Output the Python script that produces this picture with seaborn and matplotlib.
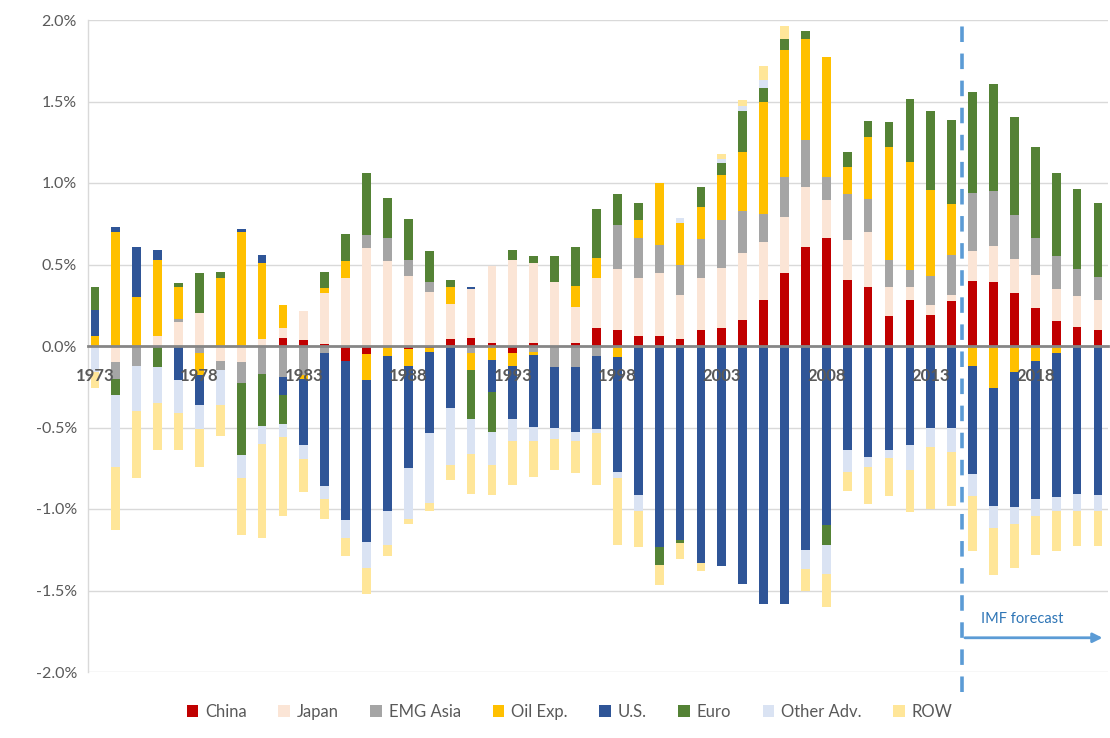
import numpy as np
import pandas as pd
import matplotlib
matplotlib.use("Agg")
import matplotlib.pyplot as plt
from matplotlib.patches import Patch
import seaborn as sns

years = list(range(1973, 2022))
series_names = ["China", "Japan", "EMG Asia", "Oil Exp.", "U.S.", "Euro", "Other Adv.", "ROW"]

china = [0, 0, 0, 0, 0, 0, 0, 0, 0, 0.05,
         0.035, 0.015, -0.09, -0.05, 0, -0.02, -0.015, 0.045, 0.05, 0.02,
         -0.04, 0.02, 0, 0.02, 0.11, 0.10, 0.06, 0.06, 0.045, 0.10,
         0.11, 0.16, 0.28, 0.45, 0.61, 0.665, 0.405, 0.36, 0.185, 0.285,
         0.19, 0.275, 0.40, 0.39, 0.325, 0.235, 0.155, 0.115, 0.10]
japan = [0, -0.10, 0, 0.06, 0.15, 0.20, -0.09, -0.10, 0.04, 0.06,
         0.18, 0.31, 0.42, 0.60, 0.52, 0.43, 0.33, 0.21, 0.30, 0.47,
         0.53, 0.49, 0.39, 0.22, 0.31, 0.37, 0.36, 0.39, 0.265, 0.32,
         0.37, 0.41, 0.36, 0.34, 0.365, 0.23, 0.245, 0.34, 0.18, 0.08,
         0.06, 0.035, 0.185, 0.225, 0.21, 0.20, 0.195, 0.19, 0.18]
emg_asia = [0, -0.10, -0.12, 0, 0.015, -0.04, -0.06, -0.13, -0.17, -0.19,
            -0.18, -0.04, 0, 0.08, 0.14, 0.10, 0.06, 0, -0.04, 0,
            0, -0.035, -0.13, -0.13, -0.06, 0.27, 0.24, 0.17, 0.19, 0.235,
            0.29, 0.26, 0.17, 0.245, 0.29, 0.14, 0.28, 0.20, 0.165, 0.10,
            0.18, 0.25, 0.355, 0.335, 0.27, 0.23, 0.20, 0.17, 0.145]
oil_exp = [0.06, 0.70, 0.30, 0.47, 0.20, -0.14, 0.42, 0.70, 0.47, 0.14,
           -0.025, 0.03, 0.10, -0.16, -0.06, -0.10, -0.02, 0.11, -0.11, -0.085,
           -0.08, -0.02, 0, 0.13, 0.12, -0.07, 0.11, 0.38, 0.255, 0.20,
           0.28, 0.36, 0.69, 0.78, 0.62, 0.74, 0.17, 0.38, 0.69, 0.665,
           0.53, 0.31, -0.125, -0.255, -0.16, -0.09, -0.045, 0, 0]
us = [0.16, 0.03, 0.31, 0.06, -0.21, -0.18, 0, 0.02, 0.05, -0.11,
      -0.40, -0.82, -0.98, -0.99, -0.95, -0.63, -0.50, -0.38, 0.01, -0.20,
      -0.33, -0.44, -0.37, -0.40, -0.45, -0.70, -0.915, -1.235, -1.19, -1.33,
      -1.35, -1.46, -1.585, -1.58, -1.25, -1.10, -0.64, -0.68, -0.64, -0.61,
      -0.50, -0.50, -0.66, -0.725, -0.825, -0.85, -0.88, -0.91, -0.915]
euro = [0.14, -0.10, 0, -0.13, 0.02, 0.25, 0.035, -0.44, -0.32, -0.18,
        0, 0.10, 0.17, 0.38, 0.25, 0.25, 0.19, 0.04, -0.30, -0.245,
        0.06, 0.04, 0.16, 0.24, 0.30, 0.19, 0.11, -0.11, -0.02, 0.12,
        0.07, 0.25, 0.08, 0.07, 0.05, -0.12, 0.09, 0.10, 0.155, 0.385,
        0.48, 0.515, 0.62, 0.655, 0.60, 0.555, 0.51, 0.49, 0.45]
other_adv = [-0.16, -0.44, -0.28, -0.22, -0.20, -0.15, -0.21, -0.14, -0.11, -0.08,
             -0.09, -0.08, -0.11, -0.16, -0.21, -0.31, -0.43, -0.35, -0.21, -0.20,
             -0.13, -0.09, -0.07, -0.05, -0.025, -0.04, -0.095, 0, 0.03, 0,
             0.03, 0.03, 0.05, 0, -0.12, -0.18, -0.13, -0.06, -0.05, -0.15,
             -0.12, -0.15, -0.135, -0.135, -0.11, -0.10, -0.09, -0.10, -0.095]
row = [-0.10, -0.39, -0.41, -0.29, -0.23, -0.23, -0.19, -0.35, -0.58, -0.48,
       -0.20, -0.12, -0.11, -0.16, -0.07, -0.03, -0.05, -0.09, -0.25, -0.185,
       -0.27, -0.22, -0.19, -0.20, -0.32, -0.41, -0.225, -0.12, -0.095, -0.05,
       0.03, 0.04, 0.085, 0.08, -0.13, -0.20, -0.12, -0.23, -0.23, -0.26,
       -0.38, -0.33, -0.335, -0.29, -0.27, -0.245, -0.245, -0.22, -0.22]

colors = ["#C00000", "#FBE5D6", "#A5A5A5", "#FFC000",
          "#2F5597", "#548235", "#DAE3F3", "#FFE699"]

label_years = [1973, 1978, 1983, 1988, 1993, 1998, 2003, 2008, 2013, 2018]
y_ticks = [-2.0, -1.5, -1.0, -0.5, 0.0, 0.5, 1.0, 1.5, 2.0]
forecast_start = 2014.5

sns.set_theme(style="white")
plt.rcParams['font.family'] = ['Lato', 'DejaVu Sans']

fig = plt.figure(figsize=(11.1, 7.38), dpi=100)
ax = fig.add_axes([88 / 1110, 1 - 672 / 738, 1020 / 1110, 652 / 738])

data = np.array([china, japan, emg_asia, oil_exp, us, euro, other_adv, row], dtype=float)
pos = np.clip(data, 0, None).cumsum(axis=0)
neg = np.clip(data, None, 0).cumsum(axis=0)

for y in y_ticks:
    if y != 0:
        ax.axhline(y, color="#D9D9D9", lw=1, zorder=0)

for k in reversed(range(len(series_names))):
    df = pd.DataFrame({"year": years, "pos": pos[k], "neg": neg[k]})
    for col in ("pos", "neg"):
        sns.barplot(data=df, x="year", y=col, native_scale=True, color=colors[k],
                    saturation=1, width=0.42, linewidth=0, errorbar=None, ax=ax,
                    zorder=2)

# spines first (set_position resets ticks)
for s in ("top", "right"):
    ax.spines[s].set_visible(False)
ax.spines["left"].set_color("#D9D9D9")
ax.spines["left"].set_linewidth(1)
ax.spines["bottom"].set_position(("data", 0))
ax.spines["bottom"].set_color("#868686")
ax.spines["bottom"].set_linewidth(2)
ax.spines["bottom"].set_zorder(3)

ax.set_xlabel("")
ax.set_ylabel("")
ax.set_xlim(1972.67, 2021.48)
ax.set_ylim(-2.0, 2.0)
ax.set_yticks(y_ticks)
ax.set_yticklabels([f"{v:.1f}%" for v in y_ticks], fontsize=11.5, color="#595959")
ax.set_xticks(label_years)
ax.set_xticklabels([str(v) for v in label_years])
ax.tick_params(axis="x", length=0, pad=16, labelsize=12, labelcolor="#595959")
ax.tick_params(axis="y", length=0, pad=8)
for lbl in ax.get_xticklabels():
    lbl.set_fontweight("bold")
ax.xaxis.set_zorder(5)
ax.yaxis.set_zorder(5)

ax.axvline(forecast_start, ymin=-0.03, ymax=1.0, color="#5B9BD5", lw=2.6,
           dashes=(4.3, 3.2), clip_on=False, zorder=4)
ax.annotate("", xy=(2021.35, -1.79), xytext=(forecast_start, -1.79),
            arrowprops=dict(arrowstyle="-|>", color="#5B9BD5", lw=2,
                            mutation_scale=14), zorder=4)
ax.text(2015.4, -1.675, "IMF forecast", fontsize=10.5, color="#2E75B6",
        va="center", ha="left")

handles = [Patch(facecolor=c, edgecolor="none") for c in colors]
fig.legend(handles, series_names, loc="center", bbox_to_anchor=(0.513, 1 - 712 / 738),
           ncol=8, frameon=False, handlelength=0.7, handleheight=0.7,
           handletextpad=0.4, columnspacing=1.9, fontsize=12,
           labelcolor="#595959")

fig.savefig("out.png", dpi=100)
